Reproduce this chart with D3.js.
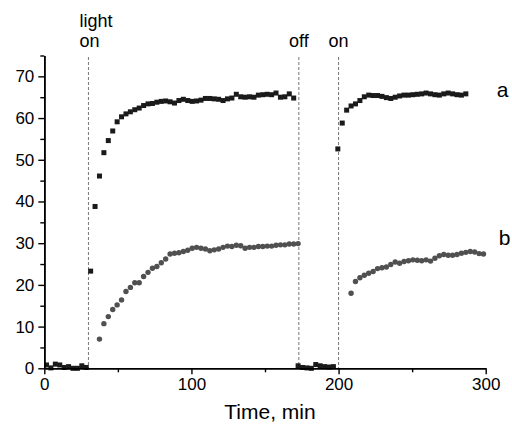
<!DOCTYPE html>
<html>
<head>
<meta charset="utf-8">
<script src="https://cdn.jsdelivr.net/npm/d3@7"></script>
<style>
    body { margin: 0; background: #fff; }
    svg text { font-family: "Liberation Sans", Arial, sans-serif; fill: #000; }
</style>
</head>
<body>
<svg id="chart" width="512" height="426"></svg>
<script>
// sampling grid (min)
const step = 3;

// series a: one reading every 3 min from 1.5 min
const aStart = 1.5;
const seriesA = [
    0.8, 0.1, 1.0, 0.8, 0.2, 0.4, 0.0, 0.0, 0.6, 0.2,
    23.3, 38.8, 46.1, 51.7, 54.6, 56.9, 59.1,
    60.3, 61.0, 61.5, 62.0, 62.4, 63.0, 63.4, 63.5, 63.8, 64.0,
    64.1, 63.9, 63.6, 64.2, 64.5, 64.2, 64.0, 64.1, 64.3, 64.7,
    64.7, 64.6, 64.5, 64.2, 64.6, 64.8, 65.7, 65.1, 65.0, 65.1,
    65.0, 65.5, 65.6, 65.7, 65.6, 66.0, 65.0, 65.1, 65.8, 64.8,
    0.6, 0.2, 0.1, 0.0, 0.9, 0.6, 0.4, 0.3, 0.4,
    52.6, 58.8, 61.9, 62.9, 63.4, 64.2, 65.1, 65.5, 65.4, 65.4,
    65.2, 64.9, 64.7, 65.0, 65.3, 65.5, 65.5, 65.6, 65.7, 65.8,
    66.0, 65.8, 65.6, 65.5, 65.8, 66.0, 65.8, 65.6, 65.5, 65.8
];

// series b, first light period
const b1Start = 37.5;
const seriesB1 = [
    7.0, 10.7, 12.4, 14.1, 15.2, 16.4, 18.4, 19.4, 20.5, 20.5,
    22.0, 23.0, 24.0, 24.4, 25.3, 26.2, 27.4, 27.6, 27.7, 28.0,
    28.3, 28.8, 29.0, 28.8, 28.6, 28.2, 28.4, 28.6, 29.0, 29.3,
    29.2, 29.5, 29.4, 28.8, 29.0, 29.0, 29.2, 29.2, 29.3, 29.3,
    29.5, 29.6, 29.6, 29.8, 29.8, 29.9
];

// series b, second light period
const b2Start = 208.5;
const seriesB2 = [
    18.0, 20.8, 21.7, 22.3, 22.8, 23.2, 23.9, 24.1, 24.3, 24.9,
    25.5, 25.2, 25.6, 25.8, 26.0, 25.9, 25.8, 26.0, 25.7, 26.4,
    27.0, 27.3, 27.1, 27.1, 27.3, 27.6, 27.8, 28.0, 27.9, 27.5,
    27.4
];

const xTicks = [0, 100, 200, 300];
const xMinorTicks = [50, 150, 250];
const yTicks = [0, 10, 20, 30, 40, 50, 60, 70];
const yMinorTicks = [5, 15, 25, 35, 45, 55, 65, 75];

const eventTimes = [30, 173, 200];
const eventLabels = [["light", "on"], ["off"], ["on"]];

const seriesNames = ["a", "b"];
const seriesNameLevels = [65.1, 29.6];
const seriesNameOffsets = [11, 13];

const svg = d3.select("#chart");

const xScale = d3.scaleLinear().domain([0, 300]).range([44.3, 485.7]);
const yScale = d3.scaleLinear().domain([0, 75]).range([368.3, 55.5]);

const toPoints = (start, values) => values.map((v, i) => ({ t: start + i * step, v: v }));
const pointsA = toPoints(aStart, seriesA);
const pointsB = toPoints(b1Start, seriesB1).concat(toPoints(b2Start, seriesB2));

// dashed light on/off markers
svg.selectAll(".event")
    .data(eventTimes)
    .join("line")
    .attr("class", "event")
    .attr("x1", d => xScale(d))
    .attr("x2", d => xScale(d))
    .attr("y1", 57)
    .attr("y2", yScale(0))
    .attr("stroke", "#777")
    .attr("stroke-width", 1)
    .attr("stroke-dasharray", "3,2");

// event labels
eventLabels.forEach((lines, i) => {
    const first = i === 0;
    const lx = first ? xScale(eventTimes[i]) - 9 : xScale(eventTimes[i]);
    const txt = svg.append("text")
        .attr("font-size", 18)
        .attr("text-anchor", first ? "start" : "middle");
    lines.forEach((line, j) => {
        txt.append("tspan")
            .attr("x", lx)
            .attr("y", 47 - (lines.length - 1 - j) * 20)
            .text(line);
    });
});

// series b (grey dots)
svg.selectAll(".pt-b")
    .data(pointsB)
    .join("circle")
    .attr("class", "pt-b")
    .attr("cx", d => xScale(d.t))
    .attr("cy", d => yScale(d.v))
    .attr("r", 2.7)
    .attr("fill", "#505050");

// series a (black squares)
const sq = 5;
svg.selectAll(".pt-a")
    .data(pointsA)
    .join("rect")
    .attr("class", "pt-a")
    .attr("x", d => xScale(d.t) - sq / 2)
    .attr("y", d => yScale(d.v) - sq / 2)
    .attr("width", sq)
    .attr("height", sq)
    .attr("fill", "#1a1a1a");

// axes
const styleAxis = g => {
    g.select(".domain").attr("stroke", "#000").attr("stroke-width", 1.6);
    g.selectAll(".tick line").attr("stroke", "#000").attr("stroke-width", 1.4);
    g.selectAll(".tick text").attr("font-size", 17).attr("fill", "#000")
        .attr("font-family", "'Liberation Sans', Arial, sans-serif");
};

svg.append("g")
    .attr("transform", `translate(0,${yScale(0)})`)
    .call(d3.axisBottom(xScale).tickValues(xMinorTicks).tickSize(4).tickSizeOuter(0).tickFormat(""))
    .call(styleAxis);

svg.append("g")
    .attr("transform", `translate(0,${yScale(0)})`)
    .call(d3.axisBottom(xScale).tickValues(xTicks).tickSize(6).tickSizeOuter(0).tickPadding(4).tickFormat(d3.format("d")))
    .call(styleAxis);

svg.append("g")
    .attr("transform", `translate(${xScale(0)},0)`)
    .call(d3.axisLeft(yScale).tickValues(yMinorTicks).tickSize(4).tickSizeOuter(0).tickFormat(""))
    .call(styleAxis);

svg.append("g")
    .attr("transform", `translate(${xScale(0)},0)`)
    .call(d3.axisLeft(yScale).tickValues(yTicks).tickSize(6).tickSizeOuter(0).tickPadding(4).tickFormat(d3.format("d")))
    .call(styleAxis);

// axis title
svg.append("text")
    .attr("x", 270)
    .attr("y", 419)
    .attr("text-anchor", "middle")
    .attr("font-size", 21)
    .text("Time, min");

// series names
svg.selectAll(".series-name")
    .data(seriesNames)
    .join("text")
    .attr("class", "series-name")
    .attr("x", (d, i) => xScale(300) + seriesNameOffsets[i])
    .attr("y", (d, i) => yScale(seriesNameLevels[i]))
    .attr("font-size", 21)
    .text(d => d);
</script>
</body>
</html>
